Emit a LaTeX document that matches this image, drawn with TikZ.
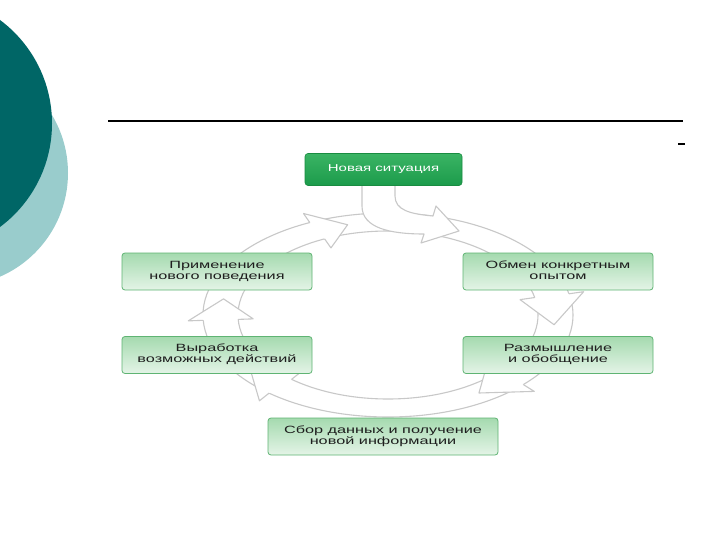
\documentclass[tikz,border=0pt]{standalone}
\usepackage{fontspec}
\usepackage{graphicx}
\setmainfont{Liberation Sans}
\definecolor{darkteal}{RGB}{0,102,102}
\definecolor{lightteal}{RGB}{153,204,204}
\definecolor{ringgray}{RGB}{200,200,200}
\definecolor{gborder}{RGB}{95,180,115}
\definecolor{gtop}{RGB}{165,218,175}
\definecolor{gbot}{RGB}{228,244,231}
\definecolor{ttop}{RGB}{58,180,100}
\definecolor{tbot}{RGB}{28,155,75}
\definecolor{tborder}{RGB}{25,140,65}
\definecolor{txt}{RGB}{30,30,30}
\newcommand\widetext[1]{\scalebox{1.55}[1]{\begin{tabular}{@{}c@{}}#1\end{tabular}}}
\newcommand\ringhead[2]{%
  \filldraw[ringline]
    ({388+185*cos(#1)},{315+102*sin(#1)}) --
    ({388+200*cos(#1)},{315+112*sin(#1)}) --
    ({388+167*cos(#1+#2)},{315+93*sin(#1+#2)}) --
    ({388+135*cos(#1)},{315+74*sin(#1)}) --
    ({388+150*cos(#1)},{315+84*sin(#1)});}
\renewcommand\arraystretch{0.95}
\begin{document}
\begin{tikzpicture}[x=1pt,y=-1pt,
  ringline/.style={draw=ringgray, fill=white, line width=1.1pt, line join=round},
  lightbox/.style={draw=gborder, line width=0.8pt, rounded corners=3pt,
    top color=gtop, bottom color=gbot, minimum width=190pt, minimum height=37pt,
    align=center, text=txt, inner sep=0pt,
    font=\fontsize{10.5}{11.5}\selectfont},
  titlebox/.style={draw=tborder, line width=0.6pt, rounded corners=3pt,
    top color=ttop, bottom color=tbot, minimum width=157pt, minimum height=32pt,
    align=center, text=white, inner sep=0pt,
    font=\fontsize{10}{11.5}\selectfont}]
\useasboundingbox (0,0) rectangle (720,540);
\fill[white] (0,0) rectangle (720,540);
% background circles
\fill[lightteal] (-45,173) circle[radius=113pt];
\fill[darkteal] (-77,123.5) circle[radius=129pt];
% rule
\draw[line width=1.1pt] (108,121) -- (683,121);
\draw[line width=1.1pt] (678,144) -- (685,144);
% ring
\path[ringline, even odd rule]
  (388,315) ellipse [x radius=185pt, y radius=102pt]
  (388,315) ellipse [x radius=150pt, y radius=84pt];
\ringhead{177}{13}
\ringhead{245}{11}
\ringhead{348}{18}
\ringhead{43}{14}
\ringhead{130}{16}
% bent arrow from the top box
\filldraw[ringline] (362,186) -- (362,206) .. controls (362,228) and (390,234) .. (424,234)
  -- (421,243) -- (459,231) -- (436,206) -- (433,216)
  .. controls (410,214) and (395,210) .. (395,196) -- (395,186);
% boxes
\node[titlebox] (nov) at (383.5,169.5) {\scalebox{1.5}[1]{Новая ситуация}};
\node[lightbox] (prim) at (217,271.5) {\widetext{Применение\\нового поведения}};
\node[lightbox] (obm) at (558,271.5) {\widetext{Обмен конкретным\\опытом}};
\node[lightbox] (vyr) at (217,355) {\widetext{Выработка\\возможных действий}};
\node[lightbox] (raz) at (558,355) {\widetext{Размышление\\и обобщение}};
\node[lightbox, minimum width=230pt] (sbor) at (383,436.5) {\widetext{Сбор данных и получение\\новой информации}};
\end{tikzpicture}
\end{document}
